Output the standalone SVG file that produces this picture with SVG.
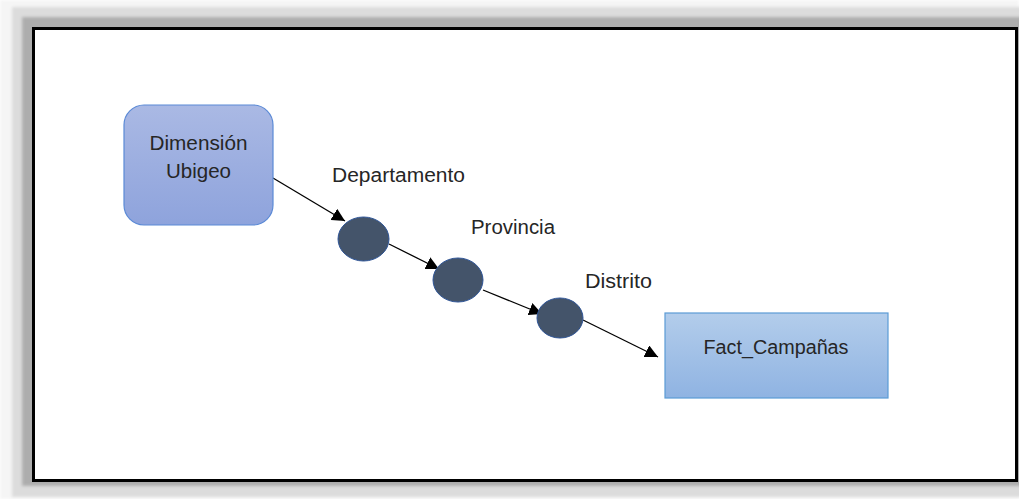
<svg xmlns="http://www.w3.org/2000/svg" width="1019" height="499" viewBox="0 0 1019 499">
  <style>
    .lbl { font-family: "Liberation Sans", Arial, sans-serif; font-size: 20px; fill: #262626; }
    .conn { stroke: #000; stroke-width: 1.3; fill: none; marker-end: url(#arrow); }
    .dot { fill: #44546a; stroke: #2f5597; stroke-width: 1; }
  </style>
  <defs>
    <linearGradient id="gDim" x1="0" y1="0" x2="0" y2="1">
      <stop offset="0" stop-color="#aab9e4"/>
      <stop offset="1" stop-color="#8ea3dc"/>
    </linearGradient>
    <linearGradient id="gFact" x1="0" y1="0" x2="0" y2="1">
      <stop offset="0" stop-color="#b3cdeb"/>
      <stop offset="1" stop-color="#8fb3e2"/>
    </linearGradient>
    <marker id="arrow" viewBox="0 0 10 10" refX="10" refY="5" markerWidth="13" markerHeight="13" markerUnits="userSpaceOnUse" orient="auto">
      <path d="M0,0 L10,5 L0,10 z" fill="#000"/>
    </marker>
    <filter id="soft" x="-5%" y="-5%" width="110%" height="110%">
      <feGaussianBlur stdDeviation="1.5"/>
    </filter>
  </defs>

  <!-- drop shadow around the frame -->
  <g id="shadow" filter="url(#soft)">
    <rect x="0" y="0" width="1019" height="499" fill="#f5f5f5"/>
    <rect x="12" y="7" width="1010" height="490" fill="#dcdcdc"/>
    <rect x="22" y="17" width="1000" height="469" fill="#adadad"/>
  </g>

  <!-- frame -->
  <rect id="frame" x="33.5" y="28.5" width="983" height="452" fill="#ffffff" stroke="#000" stroke-width="3"/>

  <!-- connectors -->
  <g id="connectors">
    <line class="conn" x1="273" y1="178" x2="345" y2="221"/>
    <line class="conn" x1="389" y1="244" x2="439" y2="269"/>
    <line class="conn" x1="483" y1="290" x2="542" y2="314"/>
    <line class="conn" x1="583" y1="320" x2="658" y2="357"/>
  </g>

  <g id="dim-ubigeo">
    <rect x="124" y="105" width="149" height="120" rx="20" ry="20" fill="url(#gDim)" stroke="#5b8ad6" stroke-width="1.2"/>
    <text class="lbl" x="198.5" y="150" text-anchor="middle" textLength="98" lengthAdjust="spacingAndGlyphs">Dimensión</text>
    <text class="lbl" x="198.5" y="178" text-anchor="middle" textLength="65" lengthAdjust="spacingAndGlyphs">Ubigeo</text>
  </g>

  <g id="departamento">
    <ellipse class="dot" cx="363.5" cy="239" rx="25.5" ry="22"/>
    <text class="lbl" x="332" y="182" textLength="133" lengthAdjust="spacingAndGlyphs">Departamento</text>
  </g>

  <g id="provincia">
    <ellipse class="dot" cx="458" cy="280" rx="25" ry="22"/>
    <text class="lbl" x="471" y="234" textLength="84" lengthAdjust="spacingAndGlyphs">Provincia</text>
  </g>

  <g id="distrito">
    <ellipse class="dot" cx="560" cy="318" rx="23" ry="20"/>
    <text class="lbl" x="585" y="288" textLength="67" lengthAdjust="spacingAndGlyphs">Distrito</text>
  </g>

  <g id="fact-campanas">
    <rect x="665" y="313" width="223" height="85" fill="url(#gFact)" stroke="#5b9bd5" stroke-width="1.2"/>
    <text class="lbl" x="776" y="354" text-anchor="middle" textLength="145" lengthAdjust="spacingAndGlyphs">Fact_Campañas</text>
  </g>
</svg>
